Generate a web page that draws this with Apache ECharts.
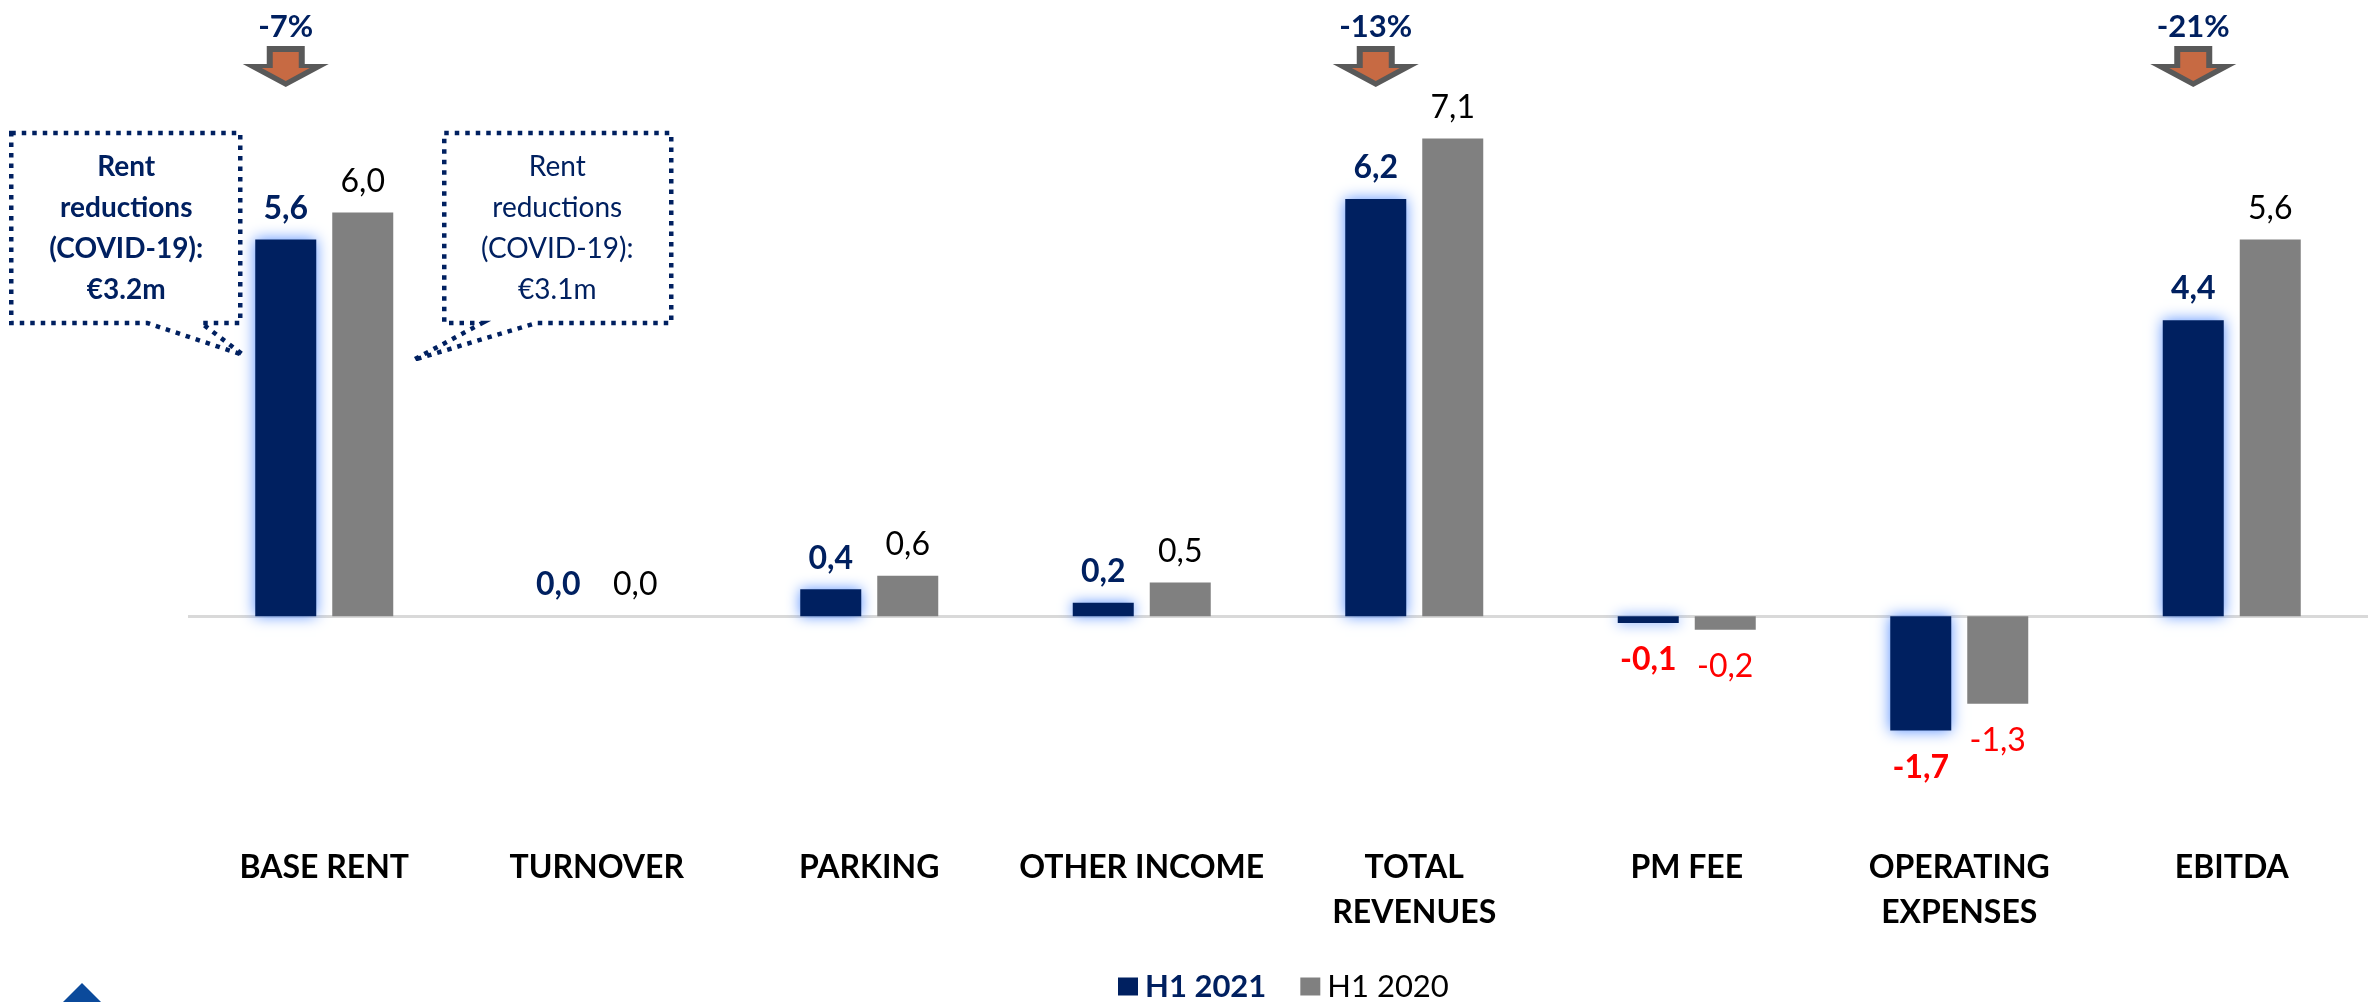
<!DOCTYPE html>
<html>
<head>
<meta charset="utf-8">
<script src="https://cdn.jsdelivr.net/npm/echarts@6/dist/echarts.min.js"></script>
<style>
  html, body { margin: 0; padding: 0; background: #fff; }
  #chart { width: 2368px; height: 1002px; }
</style>
</head>
<body>
<div id="chart"></div>
<script>
// chart data
var categories = ["BASE RENT", "TURNOVER", "PARKING", "OTHER INCOME", "TOTAL\nREVENUES", "PM FEE", "OPERATING\nEXPENSES", "EBITDA"];
var seriesNames = ["H1 2021", "H1 2020"];
var h1_2021 = [5.6, 0.0, 0.4, 0.2, 6.2, -0.1, -1.7, 4.4];
var h1_2020 = [6.0, 0.0, 0.6, 0.5, 7.1, -0.2, -1.3, 5.6];
var changeCategories = ["BASE RENT", "TOTAL\nREVENUES", "EBITDA"];
var changeLabels = ["-7%", "-13%", "-21%"];
var noteLeft = ["Rent", "reductions", "(COVID-19):", "€3.2m"];
var noteRight = ["Rent", "reductions", "(COVID-19):", "€3.1m"];

var FONT = "Lato, 'Open Sans', sans-serif";
var NAVY = "#002060";
var GREY = "#808080";
var RED = "#FF0000";
var BAR_W = 61;
var BAR_GAP = 16;

function fmt(v) {
  return v.toFixed(1).replace(".", ",");
}

// per-point label placement/colour (positive above, negative below in red)
function buildData(values, bold, posColor) {
  return values.map(function (v) {
    return {
      value: v,
      label: {
        position: v < 0 ? "bottom" : "top",
        distance: v < 0 ? 21 : 15,
        color: v < 0 ? RED : posColor,
        fontWeight: bold ? "bold" : "normal"
      }
    };
  });
}

var chart = echarts.init(document.getElementById("chart"));

var option = {
  animation: false,
  backgroundColor: "#fff",
  grid: { left: 188, right: -4, top: 78, bottom: 184 },
  legend: {
    left: 1113,
    top: 966,
    itemWidth: 20,
    itemHeight: 18,
    itemGap: 34,
    icon: "rect",
    itemStyle: { shadowBlur: 0, shadowColor: "transparent" },
    textStyle: { fontFamily: FONT, fontSize: 31, padding: [0, 0, 0, 2] },
    data: [
      { name: seriesNames[0], textStyle: { color: NAVY, fontWeight: "bold" } },
      { name: seriesNames[1], textStyle: { color: "#000", fontWeight: "normal" } }
    ]
  },
  xAxis: {
    type: "category",
    data: categories,
    axisLine: { show: false },
    axisTick: { show: false },
    axisLabel: {
      interval: 0,
      margin: 27,
      verticalAlign: "top",
      lineHeight: 45,
      fontFamily: FONT,
      fontSize: 32,
      fontWeight: "bold",
      color: "#000"
    }
  },
  yAxis: {
    type: "value",
    min: -3,
    max: 8,
    show: false,
    splitLine: { show: false }
  },
  series: [
    {
      name: seriesNames[0],
      type: "bar",
      barWidth: BAR_W,
      barGap: (BAR_GAP / BAR_W * 100) + "%",
      data: buildData(h1_2021, true, NAVY),
      itemStyle: {
        color: NAVY,
        shadowBlur: 14,
        shadowColor: "rgba(90,145,255,1)"
      },
      label: {
        show: true,
        fontFamily: FONT,
        fontSize: 32,
        formatter: function (p) { return fmt(p.value); }
      },
      markLine: {
        silent: true,
        symbol: "none",
        label: { show: false },
        lineStyle: { color: "#D9D9D9", width: 3, type: "solid" },
        data: [{ yAxis: 0 }],
        z: 1
      }
    },
    {
      name: seriesNames[1],
      type: "bar",
      barWidth: BAR_W,
      data: buildData(h1_2020, false, "#000"),
      itemStyle: { color: GREY },
      label: {
        show: true,
        fontFamily: FONT,
        fontSize: 32,
        formatter: function (p) { return fmt(p.value); }
      }
    }
  ]
};

chart.setOption(option);

// annotations: change arrows and the rent-reduction callouts
function darkBarX(cat) {
  return chart.convertToPixel({ xAxisIndex: 0 }, cat) - (BAR_W + BAR_GAP) / 2;
}

var graphics = [];

changeCategories.forEach(function (cat, i) {
  var cx = darkBarX(cat);
  graphics.push({
    type: "polygon",
    shape: { points: [[cx - 19, 46], [cx + 19, 46], [cx + 19, 64], [cx + 43, 64], [cx, 87], [cx - 43, 64], [cx - 19, 64]] },
    style: { fill: "#595959" }
  });
  graphics.push({
    type: "polygon",
    shape: { points: [[cx - 13, 52], [cx + 13, 52], [cx + 13, 68], [cx + 24, 68], [cx, 81], [cx - 24, 68], [cx - 13, 68]] },
    style: { fill: "#C76A43" }
  });
  graphics.push({
    type: "text",
    style: {
      text: changeLabels[i],
      x: cx,
      y: 27,
      align: "center",
      verticalAlign: "middle",
      fill: NAVY,
      fontFamily: FONT,
      fontSize: 31,
      fontWeight: "bold"
    }
  });
});

// callout boxes around the base rent bars
var g = chart.convertToPixel({ xAxisIndex: 0 }, categories[0]);
var dotted = { fill: "none", stroke: NAVY, lineWidth: 4.5, lineDash: [4.5, 6] };

graphics.push({
  type: "polygon",
  shape: { points: [[g - 313, 133], [g - 84, 133], [g - 84, 323], [g - 123, 323], [g - 81, 355], [g - 177, 323], [g - 313, 323]] },
  style: dotted
});
graphics.push({
  type: "polygon",
  shape: { points: [[g + 120, 133], [g + 347, 133], [g + 347, 323], [g + 212, 323], [g + 89, 360], [g + 158, 323], [g + 120, 323]] },
  style: dotted
});
graphics.push({
  type: "text",
  style: {
    text: noteLeft.join("\n"),
    x: g - 198,
    y: 228,
    align: "center",
    verticalAlign: "middle",
    lineHeight: 41,
    fill: NAVY,
    fontFamily: FONT,
    fontSize: 28,
    fontWeight: "bold"
  }
});
graphics.push({
  type: "text",
  style: {
    text: noteRight.join("\n"),
    x: g + 233,
    y: 228,
    align: "center",
    verticalAlign: "middle",
    lineHeight: 41,
    fill: NAVY,
    fontFamily: FONT,
    fontSize: 28,
    fontWeight: "normal"
  }
});

// partial logo mark at bottom-left corner
graphics.push({
  type: "polygon",
  shape: { points: [[82, 983], [104, 1005], [60, 1005]] },
  style: { fill: "#0B4A9B" }
});

chart.setOption({ graphic: graphics });
</script>
</body>
</html>
